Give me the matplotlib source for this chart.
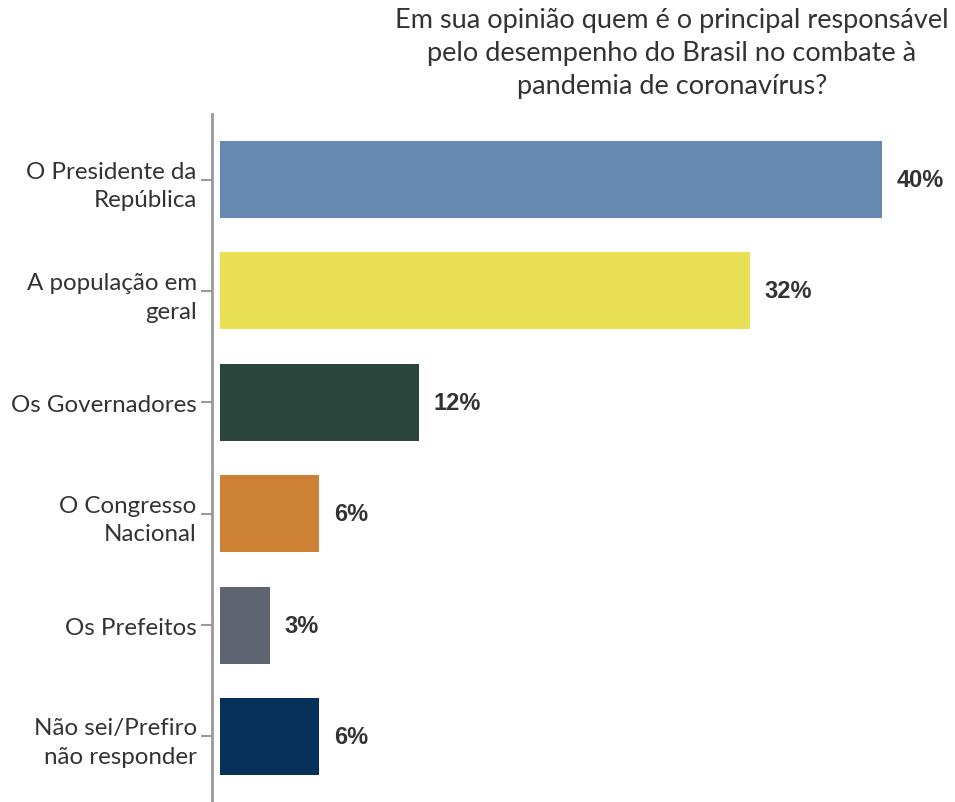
import matplotlib.pyplot as plt

# dados
categorias = ['O Presidente da\nRepública', 'A população em\ngeral', 'Os Governadores',
              'O Congresso\nNacional', 'Os Prefeitos', 'Não sei/Prefiro\nnão responder']
valores = [40, 32, 12, 6, 3, 6]
rotulos = ['40%', '32%', '12%', '6%', '3%', '6%']
cores = ['#6689b2', '#e9e054', '#2a453b', '#cc8134', '#5e6570', '#04305a']
titulo = 'Em sua opinião quem é o principal responsável\npelo desempenho do Brasil no combate à\npandemia de coronavírus?'

fig = plt.figure(figsize=(9.55, 8.03), dpi=100)
ax = fig.add_axes([212 / 955, 0, 1 - 212 / 955, (803 - 115) / 803])

pos = list(range(len(categorias)))
ax.barh(pos, valores, height=0.69, color=cores)

for p, v, r in zip(pos, valores, rotulos):
    ax.text(v + 0.9, p, r, va='center', ha='left', fontsize=17, fontweight='bold',
            family='Liberation Sans', color='#333333')

ax.set_xlim(-0.48, 44.4)
ax.set_ylim(5.588, -0.588)
ax.set_yticks(pos)
ax.set_yticklabels(categorias, fontsize=17.4, family='Lato', color='#333333',
                   linespacing=1.45)
ax.set_xticks([])
ax.tick_params(axis='y', length=8, width=1.5, color='#999999', pad=3)

for s in ['top', 'right', 'bottom']:
    ax.spines[s].set_visible(False)
ax.spines['left'].set_color('#999999')
ax.spines['left'].set_linewidth(2)

fig.text(672 / 955, 1 - 8 / 803, titulo, ha='center', va='top', fontsize=19.5,
         family='Lato', color='#333333', linespacing=1.4)

fig.savefig('out.png', dpi=100)
